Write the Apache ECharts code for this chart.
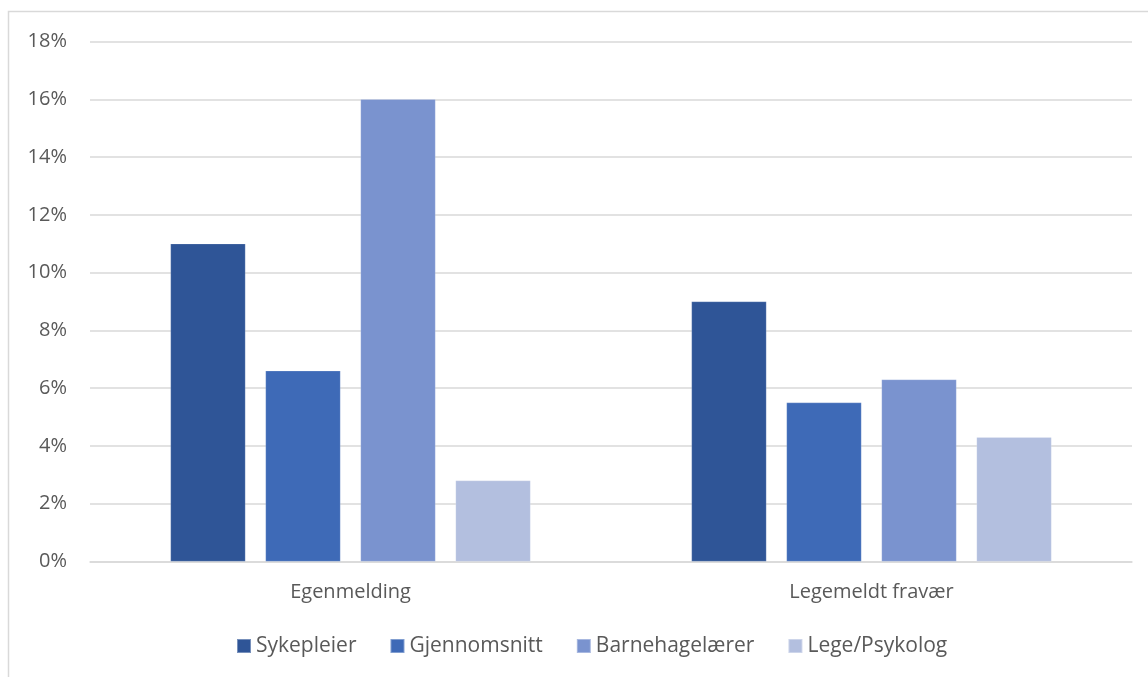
<!DOCTYPE html>
<html>
<head>
<meta charset="utf-8">
<script src="https://cdn.jsdelivr.net/npm/echarts@6/dist/echarts.min.js"></script>
<style>
html,body{margin:0;padding:0;background:#fff;}
#chart{width:1148px;height:677px;}
</style>
</head>
<body>
<div id="chart"></div>
<script>
// Sick-leave shares per group and absence type
const categories = ['Egenmelding', 'Legemeldt fravær'];
const seriesNames = ['Sykepleier', 'Gjennomsnitt', 'Barnehagelærer', 'Lege/Psykolog'];
const sykepleier = [11, 9];
const gjennomsnitt = [6.6, 5.5];
const barnehagelaerer = [16, 6.3];
const legePsykolog = [2.8, 4.3];
const yTicks = [0, 2, 4, 6, 8, 10, 12, 14, 16, 18];

const colors = ['#2F5597', '#3E6AB7', '#7A93CF', '#B3BFDF'];
const values = [sykepleier, gjennomsnitt, barnehagelaerer, legePsykolog];
const font = '"Open Sans", sans-serif';

const chart = echarts.init(document.getElementById('chart'));
chart.setOption({
  animation: false,
  color: colors,
  graphic: [{
    type: 'rect',
    shape: { x: 8.5, y: 11.5, width: 1200, height: 700 },
    style: { fill: 'none', stroke: '#D9D9D9', lineWidth: 1.5 },
    silent: true
  }],
  grid: { left: 90, right: 16, top: 41.5, bottom: 115.5 },
  legend: {
    top: 630,
    left: 231,
    itemWidth: 14,
    itemHeight: 14,
    itemGap: 33,
    icon: 'rect',
    textStyle: { color: '#595959', fontSize: 21, fontFamily: font, lineHeight: 22, padding: [0, 0, 0, 0] },
    data: seriesNames
  },
  xAxis: {
    type: 'category',
    data: categories,
    axisLine: { lineStyle: { color: '#D9D9D9', width: 1.5 } },
    axisTick: { show: false },
    axisLabel: { color: '#595959', fontSize: 20, fontFamily: font, margin: 21 }
  },
  yAxis: {
    type: 'value',
    min: yTicks[0],
    max: yTicks[yTicks.length - 1],
    interval: 2,
    axisLine: { show: false },
    axisTick: { show: false },
    splitLine: { lineStyle: { color: '#D9D9D9', width: 1.5 } },
    axisLabel: { color: '#595959', fontSize: 20, fontFamily: font, margin: 23, formatter: v => v + '%' }
  },
  series: seriesNames.map((name, i) => ({
    name,
    type: 'bar',
    data: values[i],
    barWidth: 75,
    barGap: '26.7%',
    itemStyle: { color: colors[i], borderColor: 'rgba(255,255,255,0.35)', borderWidth: 0.5 }
  }))
});
</script>
</body>
</html>
